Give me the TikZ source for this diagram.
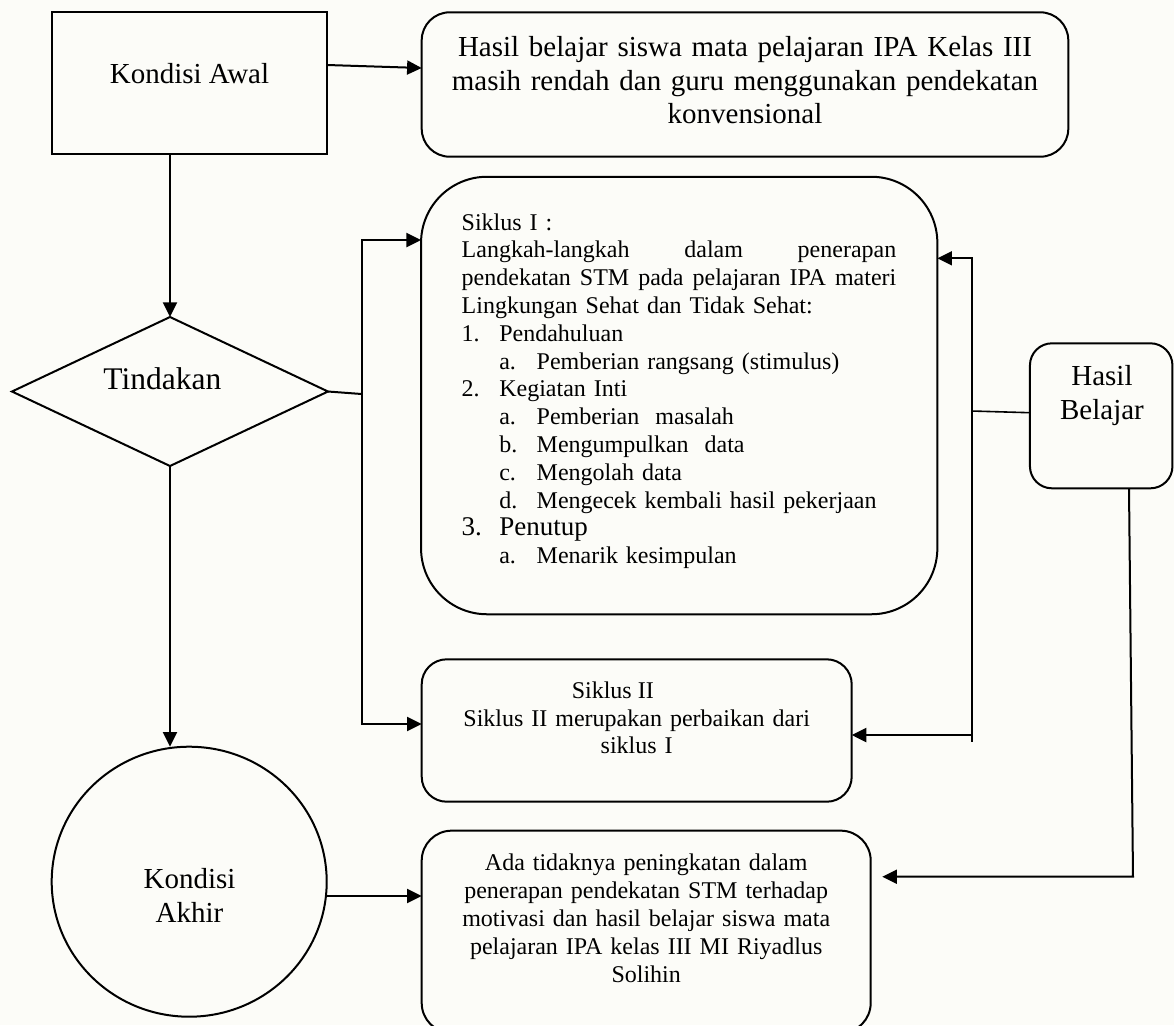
\documentclass[tikz,border=0pt]{standalone}
\usepackage{fontspec}
\setmainfont{Liberation Serif}
\usetikzlibrary{arrows.meta,shapes.geometric,calc}
\definecolor{paper}{RGB}{252,252,248}
\newlength{\stepw}
\setlength{\stepw}{217.3pt}
\newcommand{\fullline}[1]{\leavevmode\hbox to\stepw{#1}}
\begin{document}
\begin{tikzpicture}[x=0.5pt,y=-0.5pt,
  every node/.style={inner sep=0pt, outer sep=0pt},
  shapebox/.style={draw, line width=1pt},
  conn/.style={line width=1pt},
  thinconn/.style={line width=0.8pt},
  arr/.style={conn, -{Triangle[length=7.3pt,width=7pt]}},
  big/.style={font=\fontsize{14.5}{16.75}\selectfont},
  small/.style={font=\fontsize{12}{13.9}\selectfont},
]
\useasboundingbox (0,0) rectangle (1174,1025);
\fill[paper] (0,0) rectangle (1174,1025);
\clip (0,0) rectangle (1174,1025);

% shapes
\node[shapebox, rectangle, minimum width=137.75pt, minimum height=71pt] (ka) at (189.5,83.3) {};
\node[shapebox, rectangle, rounded corners=14pt, minimum width=323.3pt, minimum height=72.2pt] (top) at (745,84.5) {};
\node[shapebox, rectangle, rounded corners=33pt, minimum width=258.15pt, minimum height=218.75pt] (s1) at (679.2,395.5) {};
\node[shapebox, rectangle, rounded corners=12.5pt, minimum width=215pt, minimum height=71.2pt] (s2) at (636.7,730.5) {};
\node[shapebox, rectangle, rounded corners=15pt, minimum width=224.5pt, minimum height=101.15pt] (ab) at (646.2,931.8) {};
\node[shapebox, diamond, minimum width=158pt, minimum height=74.5pt] (dia) at (170,391.5) {};
\node[shapebox, ellipse, minimum width=137.5pt, minimum height=135pt] (akhir) at (189.2,881.7) {};
\node[shapebox, rectangle, rounded corners=11pt, minimum width=71.25pt, minimum height=72.5pt] (hasil) at (1101.2,415.8) {};

% texts
\node[big, anchor=base] (kaT) at (189.5,83) {Kondisi Awal};
\node[big, anchor=base, text width=300pt, align=center] (topT) at (745,56.7)
  {Hasil belajar siswa mata pelajaran IPA Kelas III\\ masih rendah dan guru menggunakan pendekatan\\ konvensional};
\node[font=\fontsize{15.75}{18}\selectfont, anchor=base] (diaT) at (162.3,389) {Tindakan};
\node[small, anchor=base west, text width=\stepw, align=left] (s1T) at (461.7,230)
  {Siklus I :\\
   \fullline{Langkah-langkah\hfill dalam\hfill penerapan}\\
   \fullline{pendekatan\hfill STM\hfill pada\hfill pelajaran\hfill IPA\hfill materi}\\
   Lingkungan Sehat dan Tidak Sehat:\\
   \makebox[18.8pt][l]{1.}Pendahuluan\\
   \hspace*{18.8pt}\makebox[18.7pt][l]{a.}Pemberian rangsang (stimulus)\\
   \makebox[18.8pt][l]{2.}Kegiatan Inti\\
   \hspace*{18.8pt}\makebox[18.7pt][l]{a.}Pemberian\ \ masalah\\
   \hspace*{18.8pt}\makebox[18.7pt][l]{b.}Mengumpulkan\ \ data\\
   \hspace*{18.8pt}\makebox[18.7pt][l]{c.}Mengolah data\\
   \hspace*{18.8pt}\makebox[18.7pt][l]{d.}Mengecek kembali hasil pekerjaan\\
   {\fontsize{13.5}{13.9}\selectfont\makebox[18.8pt][l]{3.}Penutup}\\
   \hspace*{18.8pt}\makebox[18.7pt][l]{a.}Menarik kesimpulan};
\node[small, anchor=base] (s2a) at (612.8,698.3) {Siklus II};
\node[small, anchor=base, text width=200pt, align=center] (s2b) at (636.7,726)
  {Siklus II merupakan perbaikan dari\\ siklus I};
\node[font=\fontsize{12}{14}\selectfont, anchor=base, text width=200pt, align=center] (abT) at (646.2,870)
  {Ada tidaknya peningkatan dalam\\ penerapan pendekatan STM terhadap\\ motivasi dan hasil belajar siswa mata\\ pelajaran IPA kelas III MI Riyadlus\\ Solihin};
\node[font=\fontsize{14.5}{17.2}\selectfont, anchor=base, text width=100pt, align=center] (akhirT) at (189.5,888.3)
  {Kondisi\\ Akhir};
\node[font=\fontsize{14.5}{17}\selectfont, anchor=base, text width=70pt, align=center] (hasilT) at (1102,385)
  {Hasil\\ Belajar};

% connectors
\draw[arr] (ka.east |- 0,65) -- (top.west |- 0,68);
\draw[arr] (ka.south -| dia.north) -- (dia.north);
\draw[arr] (dia.south) -- (dia.south |- akhir.north);

\coordinate (lbus) at (361.7,394);
\draw[conn] (dia.east) -- (lbus);
\draw[arr] (lbus) |- (s1.west |- 0,240);
\draw[arr] (lbus) |- (s2.west |- 0,724);

\coordinate (rtop) at (971.7,258.3);
\coordinate (rbot) at (971.7,741.7);
\draw[arr] (rbot) -- (rtop) -- (s1.east |- rtop);
\draw[arr] (rtop |- 0,735) -- (s2.east |- 0,735);
\draw[thinconn] (hasil.west |- 0,412.7) -- (rtop |- 0,411);

\coordinate (hb) at (1133,876.7);
\draw[arr] (hasil.south -| 1129,0) -- (hb) -- ($(ab.east |- hb)+(11.6,0)$);

\draw[arr] (akhir.east |- 0,896) -- (ab.west |- 0,896);
\end{tikzpicture}
\end{document}
